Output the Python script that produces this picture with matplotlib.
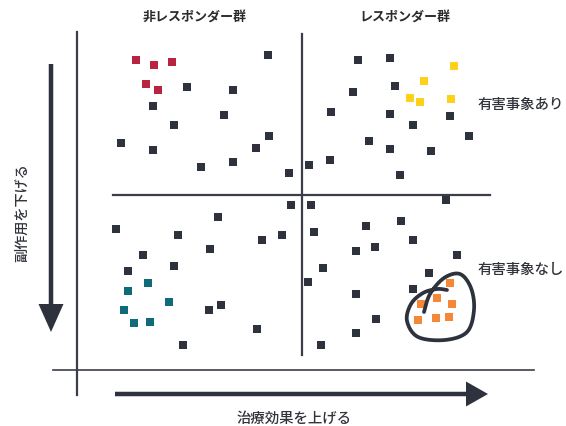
import numpy as np
import matplotlib
matplotlib.use("Agg")
import matplotlib.pyplot as plt

plt.rcParams['font.family'] = ['Noto Sans CJK JP', 'DejaVu Sans']

# point positions (pixel space, y down)
dark_x = [268, 187, 233, 153, 224, 174, 121, 153, 269, 256, 201, 233, 289, 309,
          358, 390, 395, 353, 331, 390, 450, 413, 469, 369, 390, 431, 330, 400,
          291, 218, 116, 178, 262, 282, 210, 143, 174, 128, 221, 209, 257, 183,
          311, 446, 366, 401, 314, 413, 356, 375, 457, 323, 308, 429, 413, 356,
          376, 356, 321]
dark_y = [56, 88, 91, 107, 116, 126, 144, 151, 137, 149, 168, 163, 174, 166,
          61, 59, 87, 93, 113, 115, 117, 126, 137, 142, 150, 152, 161, 176,
          206, 218, 230, 236, 241, 236, 250, 256, 267, 272, 306, 311, 330, 346,
          206, 201, 227, 222, 233, 241, 252, 248, 256, 269, 283, 274, 290, 295,
          320, 334, 346]
red_x = [136, 154, 172, 146, 158]
red_y = [61, 66, 63, 85, 91]
yellow_x = [454, 424, 410, 420, 451]
yellow_y = [67, 82, 99, 103, 100]
teal_x = [148, 128, 169, 124, 134, 150]
teal_y = [284, 292, 303, 311, 324, 323]
orange_x = [450, 437, 421, 452, 418, 436, 449]
orange_y = [284, 299, 305, 305, 321, 319, 318]

col_titles = ['非レスポンダー群', 'レスポンダー群']
row_labels = ['有害事象あり', '有害事象なし']
x_label = '治療効果を上げる'
y_label = '副作用を下げる'

LINE = '#3a3e49'
DARK = '#2e323d'
TXT = '#30333a'


def catmull(pts, n=20):
    pts = np.asarray(pts, float)
    p = np.vstack([pts[0], pts, pts[-1]])
    out = []
    for i in range(1, len(p) - 2):
        p0, p1, p2, p3 = p[i - 1], p[i], p[i + 1], p[i + 2]
        t = np.linspace(0, 1, n)[:, None]
        out.append(0.5 * ((2 * p1) + (-p0 + p2) * t + (2 * p0 - 5 * p1 + 4 * p2 - p3) * t ** 2
                          + (-p0 + 3 * p1 - 3 * p2 + p3) * t ** 3))
    return np.vstack(out)


fig = plt.figure(figsize=(5.66, 4.27), dpi=100)
ax = fig.add_axes([0, 0, 1, 1])
ax.set_xlim(0, 566)
ax.set_ylim(427, 0)
ax.axis('off')

# frame and quadrant lines
ax.plot([77, 77], [33, 396], color=LINE, lw=1.6)
ax.plot([53, 534], [371, 371], color=LINE, lw=1.2)
ax.plot([301.7, 301.7], [35, 356], color=LINE, lw=1.6)
ax.plot([113, 490], [195.7, 195.7], color=LINE, lw=1.6)

# arrows
ax.arrow(51, 65, 0, 268, width=4.5, head_width=25, head_length=28,
         length_includes_head=True, color=DARK, lw=0)
ax.arrow(115, 395, 373, 0, width=4.5, head_width=25, head_length=22,
         length_includes_head=True, color=DARK, lw=0)

ms = 5.2
ax.plot(dark_x, dark_y, ls='none', marker='s', ms=ms, mew=0, color=DARK)
ax.plot(red_x, red_y, ls='none', marker='s', ms=ms, mew=0, color='#b8233f')
ax.plot(yellow_x, yellow_y, ls='none', marker='s', ms=ms, mew=0, color='#fdd01c')
ax.plot(teal_x, teal_y, ls='none', marker='s', ms=ms, mew=0, color='#0f6b77')
ax.plot(orange_x, orange_y, ls='none', marker='s', ms=ms, mew=0, color='#f48838')

# hand-drawn loop around the orange group
loop = catmull([(424, 313), (430, 295), (444, 279), (460, 275), (471, 289), (474, 311),
                (467, 333), (445, 341), (418, 338), (407, 322), (411, 305), (423, 294),
                (437, 290), (447, 291)])
ax.plot(loop[:, 0], loop[:, 1], color=DARK, lw=2.7, solid_capstyle='round')

ax.text(195, 18, col_titles[0], ha='center', va='center', fontsize=9.4,
        fontweight='bold', color='#2b2b2b')
ax.text(404.5, 18, col_titles[1], ha='center', va='center', fontsize=9.4,
        fontweight='bold', color='#2b2b2b')
ax.text(478, 105, row_labels[0], ha='left', va='center', fontsize=10.4,
        fontweight='medium', color=TXT)
ax.text(478, 270, row_labels[1], ha='left', va='center', fontsize=10.4,
        fontweight='medium', color=TXT)
ax.text(294, 419, x_label, ha='center', va='center', fontsize=10.4,
        fontweight='medium', color=TXT)
ax.text(22, 213, y_label, ha='center', va='center', fontsize=10.2,
        fontweight='medium', color=TXT, rotation=90)

fig.savefig('out.png', dpi=100)
